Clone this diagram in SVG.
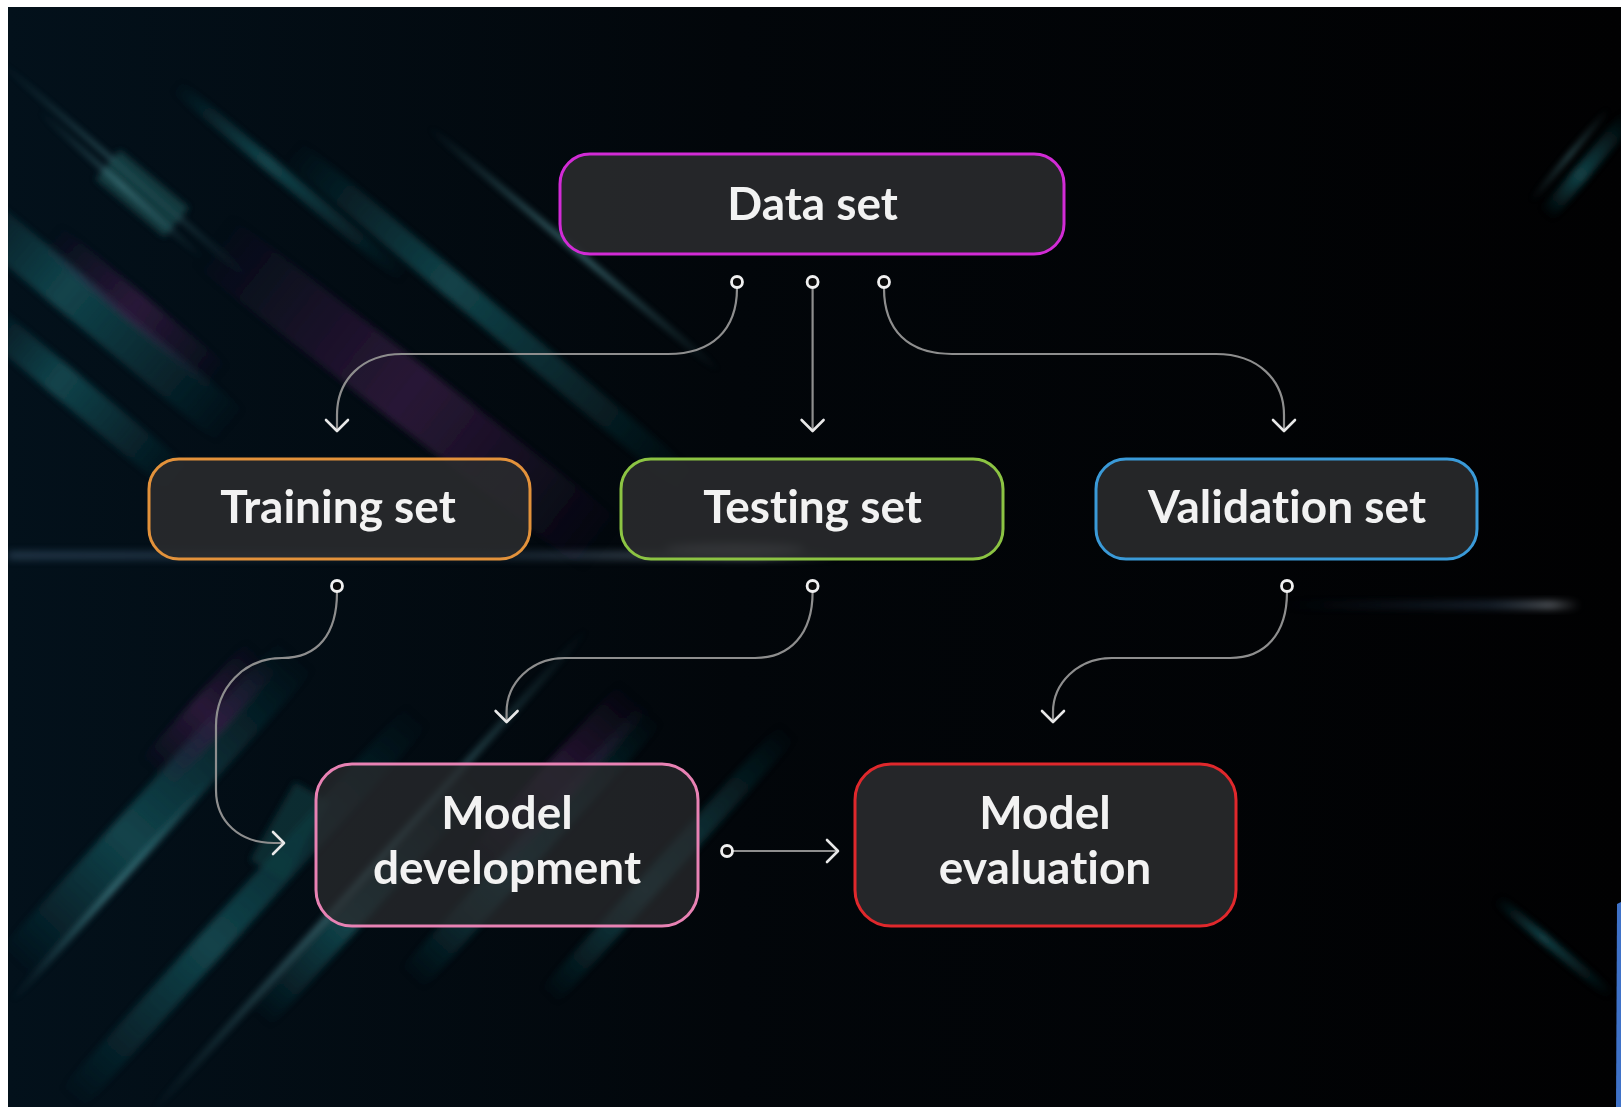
<svg xmlns="http://www.w3.org/2000/svg" width="1621" height="1107" viewBox="0 0 1621 1107">
<style>
.node rect{fill:#2a2b2e;fill-opacity:0.88;stroke-width:3}
.lbl{font-family:Lato,"Open Sans",sans-serif;font-weight:700;font-size:46px;fill:#f2f2f2;text-anchor:middle;font-variant-ligatures:none;font-feature-settings:"liga" 0,"clig" 0}
.wire{fill:none;stroke:#8e8e8e;stroke-width:2.2}
.head{fill:none;stroke:#e8e8e8;stroke-width:2.6;stroke-linecap:round;stroke-linejoin:round}
.dot{fill:#0a0a0a;stroke:#f0f0f0;stroke-width:2.8}
</style>
<defs>
<linearGradient id="bg" x1="0" y1="0" x2="1" y2="0">
<stop offset="0" stop-color="#03111b"/>
<stop offset="0.45" stop-color="#02060a"/>
<stop offset="1" stop-color="#010102"/>
</linearGradient>
<linearGradient id="fTeal" x1="0" y1="0" x2="1" y2="0">
<stop offset="0" stop-color="#17555c" stop-opacity="0"/>
<stop offset="0.4" stop-color="#17555c" stop-opacity="0.75"/>
<stop offset="1" stop-color="#17555c" stop-opacity="0"/>
</linearGradient>
<linearGradient id="fTealL" x1="0" y1="0" x2="1" y2="0">
<stop offset="0" stop-color="#5aa0a8" stop-opacity="0"/>
<stop offset="0.5" stop-color="#5aa0a8" stop-opacity="0.7"/>
<stop offset="1" stop-color="#5aa0a8" stop-opacity="0"/>
</linearGradient>
<linearGradient id="fPurp" x1="0" y1="0" x2="1" y2="0">
<stop offset="0" stop-color="#3a1c46" stop-opacity="0"/>
<stop offset="0.5" stop-color="#3a1c46" stop-opacity="0.7"/>
<stop offset="1" stop-color="#3a1c46" stop-opacity="0"/>
</linearGradient>
<linearGradient id="flareL" x1="0" y1="0" x2="1" y2="0">
<stop offset="0" stop-color="#6b8fb5" stop-opacity="0.5"/>
<stop offset="0.6" stop-color="#6b8fb5" stop-opacity="0.35"/>
<stop offset="0.9" stop-color="#c8d8e8" stop-opacity="0.6"/>
<stop offset="1" stop-color="#c8d8e8" stop-opacity="0"/>
</linearGradient>
<linearGradient id="flareR" x1="0" y1="0" x2="1" y2="0">
<stop offset="0" stop-color="#3b5f8a" stop-opacity="0"/>
<stop offset="0.7" stop-color="#5f86b0" stop-opacity="0.5"/>
<stop offset="0.9" stop-color="#d8e4f0" stop-opacity="0.8"/>
<stop offset="1" stop-color="#d8e4f0" stop-opacity="0"/>
</linearGradient>
<filter id="soft" x="-20%" y="-20%" width="140%" height="140%"><feGaussianBlur stdDeviation="3"/></filter>
<filter id="glow" x="-20%" y="-200%" width="140%" height="500%"><feGaussianBlur stdDeviation="4"/></filter>
<clipPath id="clip"><rect x="8" y="7" width="1613" height="1100"/></clipPath>
</defs>

<rect x="0" y="0" width="1621" height="1107" fill="#ffffff"/>
<g id="background" clip-path="url(#clip)">
<rect x="8" y="7" width="1613" height="1100" fill="url(#bg)"/>
<g filter="url(#soft)">
<rect transform="translate(0,60) rotate(41)" width="330" height="3" fill="url(#fTealL)"/>
<rect transform="translate(-30,180) rotate(40)" width="360" height="42" fill="url(#fTeal)"/>
<rect transform="translate(120,150) rotate(40)" width="90" height="38" fill="#1b4b50" opacity="0.7"/>
<rect transform="translate(230,215) rotate(38)" width="500" height="62" fill="url(#fPurp)"/>
<rect transform="translate(300,140) rotate(40)" width="520" height="26" fill="url(#fTeal)"/>
<rect transform="translate(430,125) rotate(40)" width="380" height="5" fill="url(#fTealL)"/>
<rect transform="translate(-10,300) rotate(40)" width="260" height="32" fill="url(#fTeal)"/>
<rect transform="translate(60,225) rotate(40)" width="220" height="30" fill="url(#fPurp)"/>
<rect transform="translate(180,80) rotate(40)" width="300" height="14" fill="url(#fTeal)"/>
<rect transform="translate(40,110) rotate(42)" width="220" height="3" fill="url(#fTealL)"/>
<rect transform="translate(0,950) rotate(-48)" width="420" height="46" fill="url(#fTeal)"/>
<rect transform="translate(60,1090) rotate(-48)" width="520" height="30" fill="url(#fTeal)"/>
<rect transform="translate(150,1110) rotate(-48)" width="650" height="6" fill="url(#fTealL)"/>
<rect transform="translate(140,760) rotate(-48)" width="160" height="42" fill="url(#fPurp)"/>
<rect transform="translate(400,970) rotate(-48)" width="360" height="30" fill="url(#fTeal)"/>
<rect transform="translate(540,990) rotate(-48)" width="360" height="22" fill="url(#fTeal)"/>
<rect transform="translate(250,1010) rotate(-48)" width="320" height="26" fill="url(#fTeal)"/>
<rect transform="translate(460,860) rotate(-48)" width="240" height="40" fill="url(#fPurp)"/>
<rect transform="translate(10,1000) rotate(-48)" width="300" height="4" fill="url(#fTealL)"/>
<rect transform="translate(250,860) rotate(-60)" width="90" height="40" fill="#143f42" opacity="0.6"/>
<rect transform="translate(1540,210) rotate(-50)" width="130" height="16" fill="url(#fTeal)"/>
<rect transform="translate(1530,200) rotate(-50)" width="120" height="3" fill="url(#fTealL)"/>
<rect transform="translate(1500,895) rotate(40)" width="150" height="10" fill="url(#fTeal)"/>
</g>
<rect x="8" y="553" width="830" height="5" fill="url(#flareL)" filter="url(#glow)"/>
<ellipse cx="735" cy="549" rx="70" ry="6" fill="#dfe8f0" opacity="0.45" filter="url(#glow)"/>
<rect x="1280" y="603" width="300" height="4" fill="url(#flareR)" filter="url(#glow)"/>
<path d="M1621,902 L1617,904 L1616,1107 L1621,1107 Z" fill="#3f72c8"/>
</g>

<g id="connectors">
<path class="wire" d="M737,288 C737,330 712,354 668,354 L402,354 C362,354 337,380 337,415 L337,429"/>
<path class="wire" d="M812.6,288 L812.6,430"/>
<path class="wire" d="M884,288 C884,330 908,354 952,354 L1216,354 C1258,354 1284,380 1284,415 L1284,429"/>
<path class="wire" d="M337,592 C337,634 318,658 282,658 C244,658 216,688 216,726 L216,790 C216,822 240,843 274,843 L282,843"/>
<path class="wire" d="M812.6,592 C812.6,634 790,658 755,658 L565,658 C530,658 506.6,684 506.6,712 L506.6,720"/>
<path class="wire" d="M1287,592 C1287,634 1265,658 1230,658 L1112,658 C1077,658 1053,684 1053,712 L1053,720"/>
<path class="wire" d="M733,851 L836,851"/>
<path class="head" d="M326,420 L337,431 L348,420"/>
<path class="head" d="M801.6,420 L812.6,431 L823.6,420"/>
<path class="head" d="M1273,420 L1284,431 L1295,420"/>
<path class="head" d="M495.6,711 L506.6,722 L517.6,711"/>
<path class="head" d="M1042,711 L1053,722 L1064,711"/>
<path class="head" d="M273,832 L284,843 L273,854"/>
<path class="head" d="M827,840 L838,851 L827,862"/>
<circle class="dot" cx="737" cy="282" r="5.5"/>
<circle class="dot" cx="812.6" cy="282" r="5.5"/>
<circle class="dot" cx="884" cy="282" r="5.5"/>
<circle class="dot" cx="337" cy="586" r="5.5"/>
<circle class="dot" cx="812.6" cy="586" r="5.5"/>
<circle class="dot" cx="1287" cy="586" r="5.5"/>
<circle class="dot" cx="727" cy="851" r="5.5"/>
</g>

<g id="node-data-set" class="node">
<rect x="560" y="154" width="504" height="100" rx="30" stroke="#d22bd6"/>
<text class="lbl" x="812.6" y="220">Data set</text>
</g>
<g id="node-training-set" class="node">
<rect x="149" y="459" width="381" height="100" rx="30" stroke="#e3923b"/>
<text class="lbl" x="338" y="523">Training set</text>
</g>
<g id="node-testing-set" class="node">
<rect x="621" y="459" width="382" height="100" rx="30" stroke="#8cc443"/>
<text class="lbl" x="812.6" y="523">Testing set</text>
</g>
<g id="node-validation-set" class="node">
<rect x="1096" y="459" width="381" height="100" rx="30" stroke="#3a9ad8"/>
<text class="lbl" x="1287" y="523">Validation set</text>
</g>
<g id="node-model-development" class="node">
<rect x="316" y="764" width="382" height="162" rx="36" stroke="#e882b4" style="fill-opacity:0.75"/>
<text class="lbl" x="507" y="829">Model</text>
<text class="lbl" x="507" y="884">development</text>
</g>
<g id="node-model-evaluation" class="node">
<rect x="855" y="764" width="381" height="162" rx="36" stroke="#e0282c"/>
<text class="lbl" x="1045" y="829">Model</text>
<text class="lbl" x="1045" y="884">evaluation</text>
</g>
</svg>
